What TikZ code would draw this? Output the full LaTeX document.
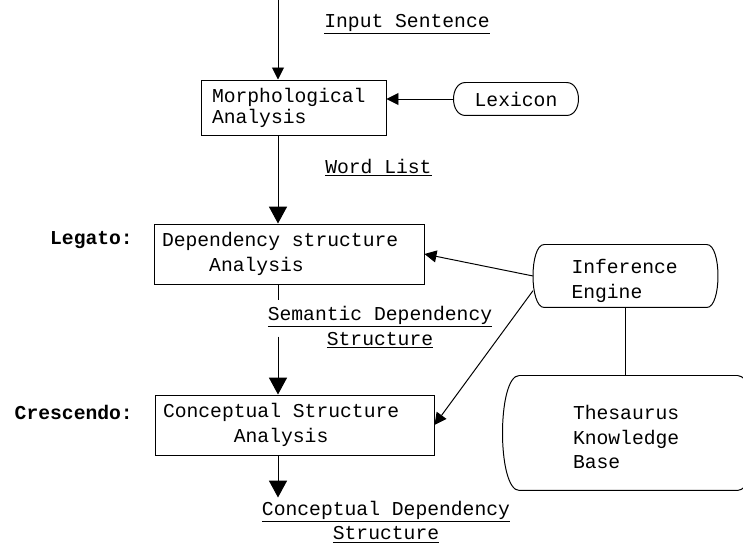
\documentclass[tikz,border=0pt]{standalone}
\usepackage{fontspec}
\setmonofont{Liberation Mono}[WordSpace={1,0,0}]
\usetikzlibrary{arrows.meta}

% rounded box with bulging sides, drawn round a named node
\newcommand{\bulge}[2]{%
\draw ([xshift=#2]#1.north west) -- ([xshift=-#2]#1.north east)
  .. controls ([xshift=#2/3]#1.north east) and ([xshift=#2/3]#1.south east) .. ([xshift=-#2]#1.south east)
  -- ([xshift=#2]#1.south west)
  .. controls ([xshift=-#2/3]#1.south west) and ([xshift=-#2/3]#1.north west) .. cycle;}
\newcommand{\gap}{\phantom{x}}

\begin{document}
\begin{tikzpicture}[line width=0.7pt,
  every node/.style={font=\ttfamily\fontsize{14}{17.5}\selectfont},
  box/.style={draw, align=left, inner ysep=0pt},
  soft/.style={align=left, inner ysep=0pt},
  tag/.style={font=\ttfamily\bfseries\fontsize{14}{17.5}\selectfont, anchor=east},
  big/.style={-{Triangle[width=0.45cm,length=0.42cm]}},
  small/.style={-{Triangle[width=0.3cm,length=0.3cm]}}]
\useasboundingbox (0,0) rectangle (18.575,-13.6);

\coordinate (top) at (6.95,0);

\node [box, text width=4.075cm, inner xsep=0.275cm, minimum height=1.375cm, font=\ttfamily\fontsize{14}{15}\selectfont] (morph) at (7.3375,-2.6875) {Morphological\\Analysis};
\node [soft, minimum width=3.1cm, minimum height=0.8cm, align=center] (lex) at (12.9,-2.475) {Lexicon};
\node [box, text width=6.35cm, inner xsep=0.2cm, minimum height=1.5cm] (dep) at (7.225,-6.35) {Dependency\gap structure\\\phantom{xxxx}Analysis};
\node [box, text width=6.575cm, inner xsep=0.2cm, minimum height=1.5cm] (conc) at (7.3625,-10.625) {Conceptual\gap Structure\\\phantom{xxxxxx}Analysis};
\node [soft, text width=2.7cm, inner xsep=0.95cm, minimum height=1.55cm, text depth=13.4pt] (inf) at (15.6375,-6.9) {Inference\\Engine};
\node [soft, text width=2.775cm, inner xsep=1.75cm, minimum height=2.85cm, text depth=29.3pt] (thes) at (15.7125,-10.825) {Thesaurus\\Knowledge\\Base};

\bulge{lex}{0.3cm}
\bulge{inf}{0.28cm}
\bulge{thes}{0.42cm}

\node [anchor=base] (input) at (10.175,-0.68) {\underline{Input Sentence}};
\node [anchor=base] (words) at (9.46,-4.33) {\underline{Word List}};
\node [align=center, inner sep=0pt] (semdep) at (9.5,-8.18) {\underline{Semantic Dependency}\\\underline{Structure}};
\node [align=center, inner sep=0pt] (concdep) at (9.65,-13.05) {\underline{Conceptual Dependency}\\\underline{Structure}};

\node [tag] (legato) at (3.45,-6.0) {Legato:};
\node [tag] (crescendo) at (3.45,-10.3) {Crescendo:};

\draw [small] (top) -- (top |- morph.north);
\draw [small] (lex.west) -- (lex.west -| morph.east);
\draw [big] (morph.south -| top) -- (dep.north -| top);
\draw (dep.south -| top) -- ++(0,-0.4);
\draw [big] (conc.north -| top) ++(0,1.45) -- (conc.north -| top);
\draw [big] (conc.south -| top) -- ++(0,-1.05);

\draw [small] (inf.west) -- (dep.east);
\draw [small] (inf.189) -- (conc.east);
\draw (inf.south) -- (inf.south |- thes.north);
\end{tikzpicture}
\end{document}
